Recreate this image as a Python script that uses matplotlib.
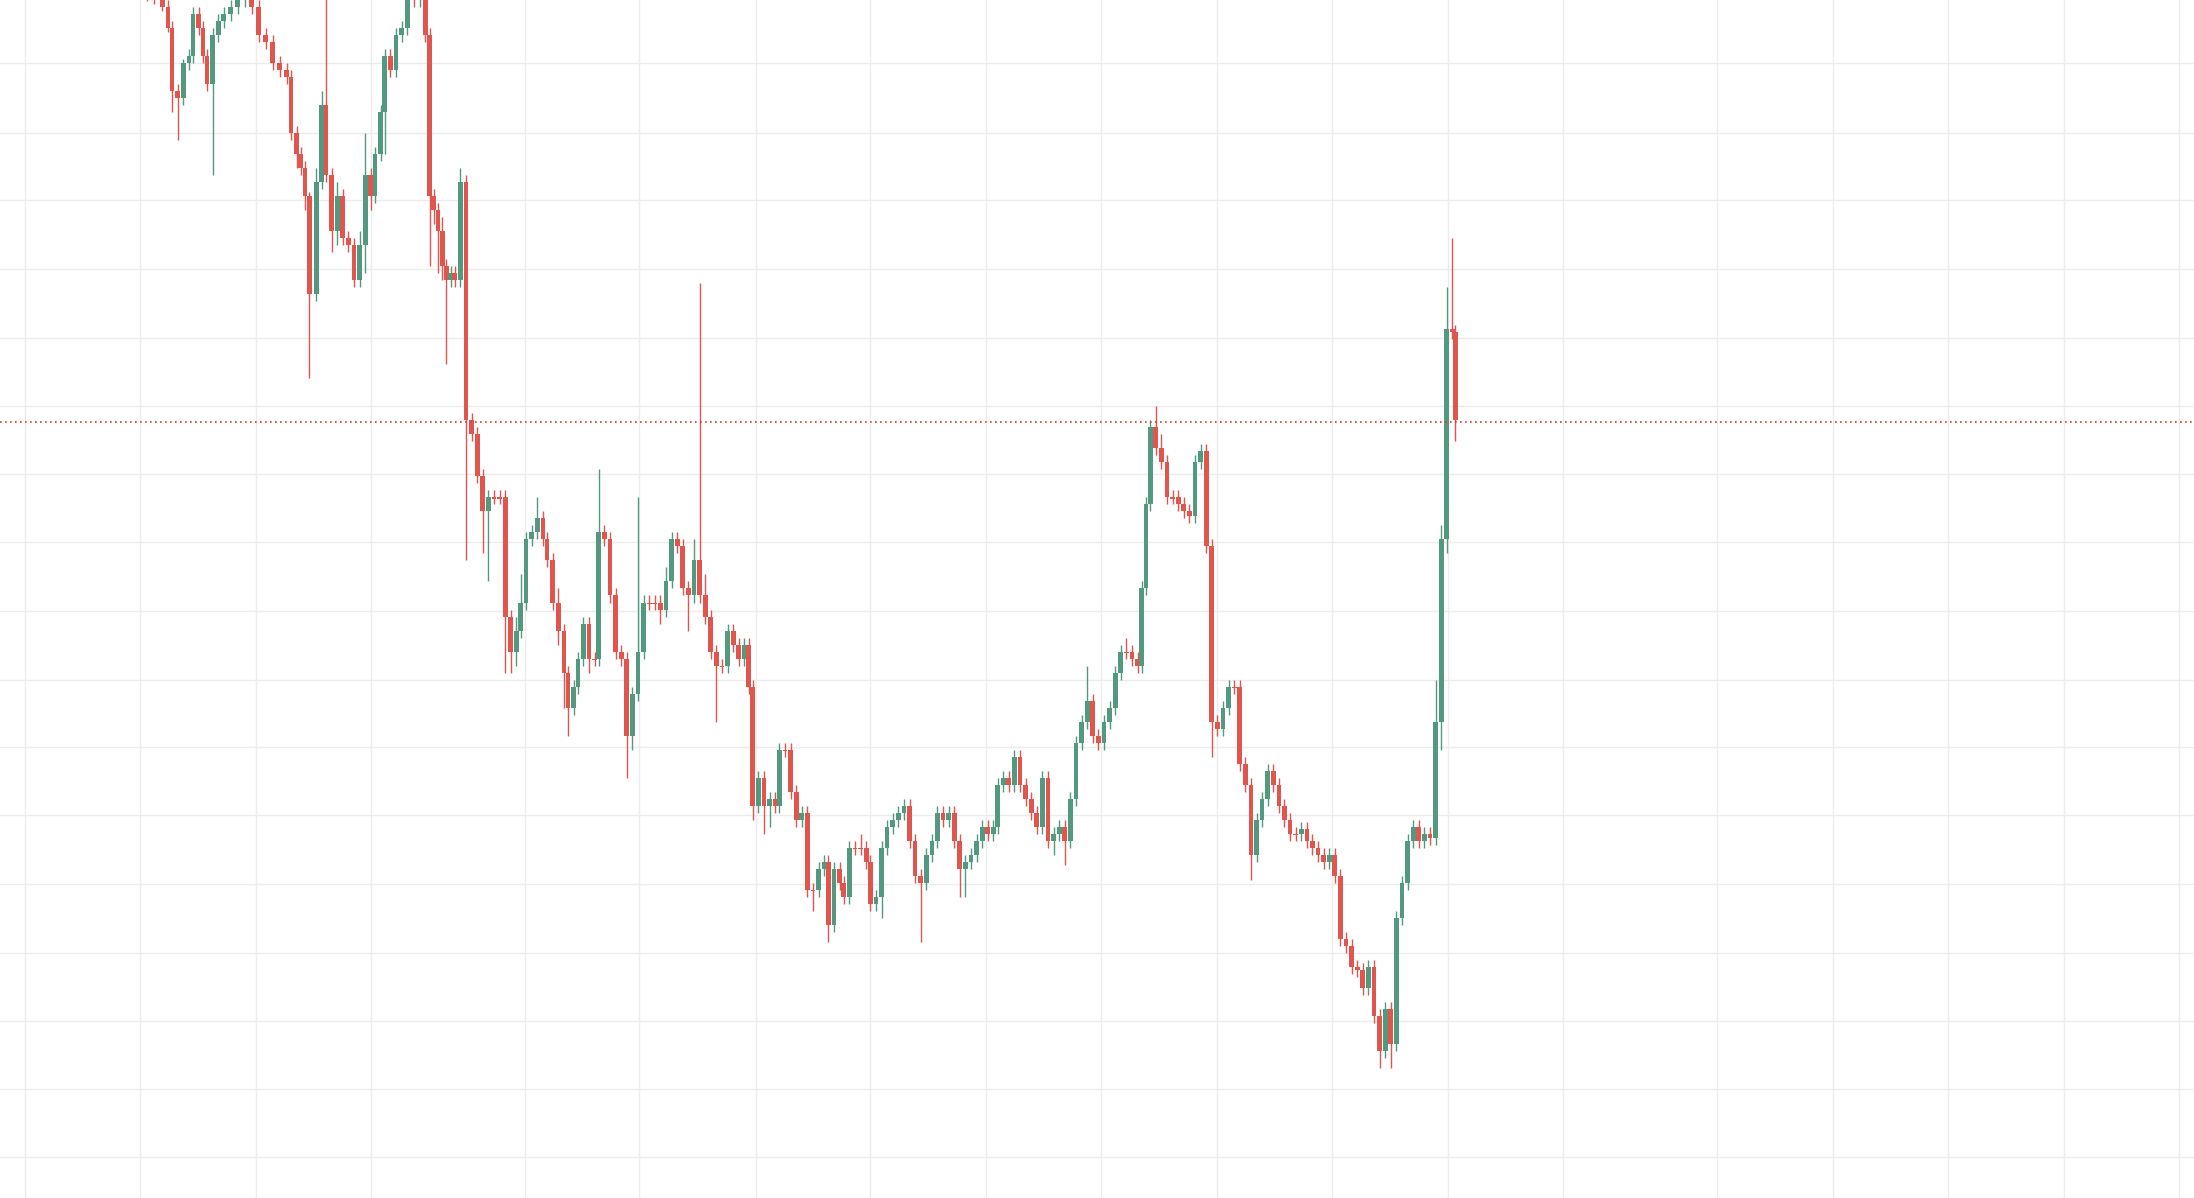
import matplotlib
matplotlib.use("Agg")
import matplotlib.pyplot as plt

# positions (reference pixel columns) and closes (reference pixel rows; smaller = higher price)
xs = [105,110,116,120,123,127,131,135,138,142,
      145,148,152,156,160,165,170,175,180,185,
      190,195,200,205,208,212,215,218,221,226,
      230,233,237,241,245,249,253,257,261,265,
      268,272,275,279,283,287,291,296,300,304,
      307,310,313,316,319,322,325,329,333,337,
      341,345,349,353,357,361,365,369,372,376,
      380,384,388,391,395,399,403,406,410,413,
      417,421,425,428,432,436,440,444,448,452,
      456,460,464,468,472,476,480,484,488,492,
      496,500,504,508,512,516,520,524,528,532,
      535,538,542,546,550,554,557,561,565,569,
      573,577,581,585,589,592,596,600,603,607,
      611,615,619,622,626,630,634,638,642,646,
      650,654,658,662,666,670,674,678,682,686,
      690,694,698,702,706,710,713,717,721,725,
      729,733,737,741,745,749,753,757,761,765,
      769,773,777,781,785,789,793,797,801,805,
      809,813,816,819,822,826,830,834,838,842,
      846,850,854,858,862,866,870,874,878,882,
      886,890,894,898,902,906,910,914,918,922,
      926,930,934,938,942,946,950,954,958,962,
      966,970,974,978,982,986,990,994,998,1002,
      1006,1010,1014,1018,1022,1026,1030,1034,1038,1040]
closes = [-2,0,5,20,65,70,45,40,10,20,
          40,60,25,15,10,5,0,-5,5,25,
          30,45,50,55,95,110,120,140,210,130,
          75,125,165,140,170,175,200,175,125,140,
          110,80,40,50,25,20,-10,0,-5,25,
          140,150,165,190,200,195,200,130,300,310,
          340,365,355,355,355,440,465,450,430,385,
          380,370,385,400,430,450,480,505,490,470,
          445,470,470,380,385,425,465,470,525,495,
          465,430,430,430,435,415,385,390,420,425,
          400,425,440,465,475,475,450,460,470,460,
          490,575,555,575,570,575,535,535,565,585,
          580,635,635,620,615,660,620,630,640,605,
          605,605,615,645,640,605,590,585,580,575,
          600,625,630,610,600,580,585,580,600,620,
          615,610,600,590,595,590,560,555,560,540,
          560,570,580,590,555,600,595,590,600,570,
          530,515,500,525,530,515,505,480,465,465,
          470,475,420,360,305,320,330,355,355,360,
          365,368,330,322,390,515,520,505,490,490,
          545,560,610,585,570,550,560,575,585,595,
          595,592,600,605,610,615,610,625,670,675,
          690,692,705,690,725,750,720,745,655,630,
          600,590,600,595,598,515,385,235,237,300]
wick_up = [3,3,3,5,5,5,3,5,5,5,
           5,5,5,5,5,5,5,5,5,5,
           5,5,5,5,5,5,5,5,3,10,
           10,107,5,10,5,5,5,10,30,5,
           5,5,5,5,5,5,5,5,5,5,
           5,5,5,10,5,5,5,10,5,5,
           5,5,5,5,5,5,5,10,20,5,
           5,15,5,5,5,10,5,5,5,5,
           5,5,5,45,5,5,5,5,5,5,
           110,5,5,5,5,10,5,5,5,5,
           15,198,15,5,5,5,5,5,5,5,
           5,5,5,5,5,5,5,5,5,5,
           5,5,5,5,5,5,5,5,5,5,
           5,10,5,5,5,5,5,5,5,5,
           5,5,5,5,5,5,5,5,5,5,
           5,5,5,5,5,5,5,5,5,5,
           5,5,5,5,5,5,5,5,5,5,
           5,5,25,5,5,5,5,5,5,10,
           5,5,5,5,5,15,10,5,5,5,
           5,5,5,5,5,5,5,5,5,5,
           5,5,5,5,5,5,5,5,5,5,
           5,5,5,5,5,5,5,5,5,5,
           5,5,5,5,5,5,5,5,5,5,
           5,5,5,5,5,30,10,30,65,5]
wick_dn = [3,3,3,3,15,30,5,5,5,5,
           5,5,65,5,5,5,5,5,5,5,
           5,5,5,5,5,10,5,10,60,5,
           5,5,15,10,5,5,5,5,20,10,
           5,5,30,5,5,5,5,5,5,5,
           50,10,30,10,60,5,5,5,100,5,
           5,30,50,5,5,40,15,10,5,5,
           5,5,5,5,5,10,25,20,5,5,
           5,10,5,5,5,5,5,5,30,10,
           5,5,5,5,10,5,5,5,5,25,
           5,5,5,5,40,5,5,5,5,5,
           5,10,5,20,15,5,5,5,5,5,
           5,5,15,5,5,12,5,5,5,5,
           5,5,5,5,5,15,5,5,5,5,
           5,5,42,5,5,5,5,5,5,20,
           20,5,5,5,5,5,5,5,5,5,
           5,5,5,5,5,5,10,5,17,5,
           5,5,5,5,5,5,5,5,5,5,
           5,5,5,5,5,5,5,5,5,5,
           5,5,5,5,5,25,5,5,5,5,
           5,5,18,5,5,5,5,5,5,5,
           5,5,5,5,5,5,5,5,5,5,
           5,5,5,5,5,12,5,17,5,5,
           5,5,5,5,5,5,20,10,5,15]
ref_level = 301
vgrid = [18,100,183,265,375,457,540,622,705,787,870,952,1035,1117,1227,1310,1392,1475,1557]
hgrid = [45,95,143,192,241,290,338,387,436,485,533,582,631,680,729,777,826]

GREEN = '#52997f'
RED = '#e0554d'

fig = plt.figure(figsize=(21.94, 11.98), dpi=100)
ax = fig.add_axes([0, 0, 1, 1])
ax.set_xlim(0, 1568)
ax.set_ylim(855, 0)
for g in vgrid:
    ax.axvline(g, color='#ececec', lw=1, zorder=0)
for g in hgrid:
    ax.axhline(g, color='#ececec', lw=1, zorder=0)

prev = closes[0]
for x, c, u, d in zip(xs, closes, wick_up, wick_dn):
    o = prev
    col = GREEN if c < o else RED
    top, bot = min(o, c), max(o, c)
    ax.vlines(x, top - u, bot + d, color=col, lw=1.0, zorder=2)
    ax.bar(x, max(bot - top, 1.2), bottom=top, width=3.4, color=col, zorder=3, linewidth=0)
    prev = c

ax.axhline(ref_level, color='#e03a30', lw=1.2, ls=(0, (1, 2)), zorder=4)
ax.axis('off')
fig.savefig('out.png', dpi=100)
